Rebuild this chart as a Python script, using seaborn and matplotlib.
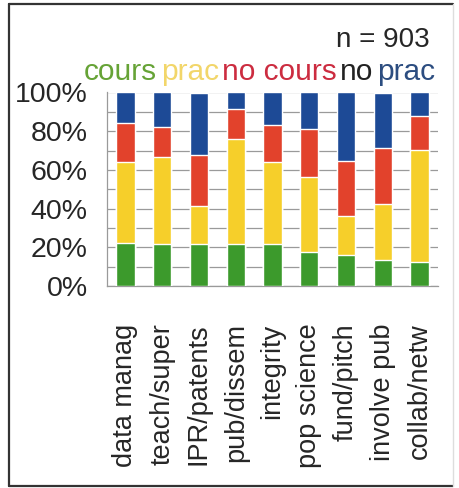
import matplotlib
matplotlib.use("Agg")
import matplotlib.pyplot as plt
import seaborn as sns
import numpy as np
import pandas as pd

sns.set_style("white")
plt.rcParams["font.family"] = ["Liberation Sans", "DejaVu Sans"]

categories = ["data manag", "teach/super", "IPR/patents", "pub/dissem", "integrity",
              "pop science", "fund/pitch", "involve pub", "collab/netw"]
cours = [22.3, 21.6, 21.6, 21.6, 21.6, 17.6, 16.2, 13.6, 12.4]
prac = [41.7, 44.9, 19.7, 54.2, 42.4, 38.9, 20.1, 28.7, 57.9]
no_cours = [20.0, 15.9, 26.4, 15.6, 19.2, 24.5, 28.3, 28.9, 17.6]
no_prac = [16.0, 17.6, 32.3, 8.6, 16.8, 19.0, 35.4, 28.8, 12.1]

series_names = ["cours", "prac", "no cours", "no prac"]
bar_colors = ["#3c9a2c", "#f6cf2a", "#e2422c", "#1d4a96"]

df = pd.DataFrame({"cat": categories, "cours": cours, "prac": prac,
                   "no cours": no_cours, "no prac": no_prac})

fig = plt.figure(figsize=(4.6, 4.88), dpi=100)
ax = fig.add_axes([107 / 460, 1 - 286 / 488, 331 / 460, 193.5 / 488])

# stacked bars: draw cumulative totals from top segment down
cum = df[series_names].cumsum(axis=1)
for name, col in reversed(list(zip(series_names, bar_colors))):
    sns.barplot(x=df["cat"], y=cum[name], color=col, width=0.5,
                saturation=1, ax=ax, zorder=3)

ax.set_ylim(0, 100)
ax.set_xlim(-0.5, 8.5)
ax.set_yticks(np.arange(0, 101, 20))
ax.set_yticks(np.arange(0, 101, 10), minor=True)
ax.set_yticklabels([f"{v}%" for v in range(0, 101, 20)], fontsize=20.5)
ax.yaxis.grid(True, which="both", color="#9a9a9a", lw=0.9, zorder=0)
ax.set_xticks(range(len(categories)))
ax.set_xticklabels(categories, rotation=90, fontsize=19.5)
ax.set_xticks(np.arange(-0.5, 9.0, 1), minor=True)
ax.tick_params(axis="x", which="major", length=0, pad=27)
ax.tick_params(axis="x", which="minor", length=12, color="#9a9a9a", width=0.9)
ax.tick_params(axis="y", which="both", length=6, color="#9a9a9a", width=0.9, pad=8)
ax.set_xlabel("")
ax.set_ylabel("")
for s in ["top", "right"]:
    ax.spines[s].set_visible(False)
for s in ["left", "bottom"]:
    ax.spines[s].set_color("#9a9a9a")
    ax.spines[s].set_linewidth(0.9)

fig.text(430 / 460, 1 - 47 / 488, "n = 903", fontsize=20, ha="right", va="baseline")

# coloured legend words
words = [("cours", "#66a336"), ("prac", "#f2d66a"), ("no cours", "#cc2c40"),
         ("no", "#222222"), ("prac", "#2c4d80")]
t = fig.text(84 / 460, 1 - 80 / 488, words[0][0], color=words[0][1],
             fontsize=21.5, va="baseline")
for w, c in words[1:]:
    t = ax.annotate(w, xy=(1, 0), xycoords=t, xytext=(2.5, 0),
                    textcoords="offset points", color=c, fontsize=21.5,
                    va="bottom", annotation_clip=False)

# frame round the figure
fig.add_artist(plt.Line2D([9 / 460, 9 / 460], [2 / 488, 1 - 4 / 488],
                          transform=fig.transFigure, color="#333333", lw=1.6))
fig.add_artist(plt.Line2D([9 / 460, 453 / 460], [1 - 4 / 488, 1 - 4 / 488],
                          transform=fig.transFigure, color="#333333", lw=1.6))
fig.add_artist(plt.Line2D([9 / 460, 453 / 460], [2 / 488, 2 / 488],
                          transform=fig.transFigure, color="#333333", lw=1.6))
fig.add_artist(plt.Line2D([453 / 460, 453 / 460], [2 / 488, 1 - 4 / 488],
                          transform=fig.transFigure, color="#dddddd", lw=1.0))

fig.savefig("out.png", dpi=100)
